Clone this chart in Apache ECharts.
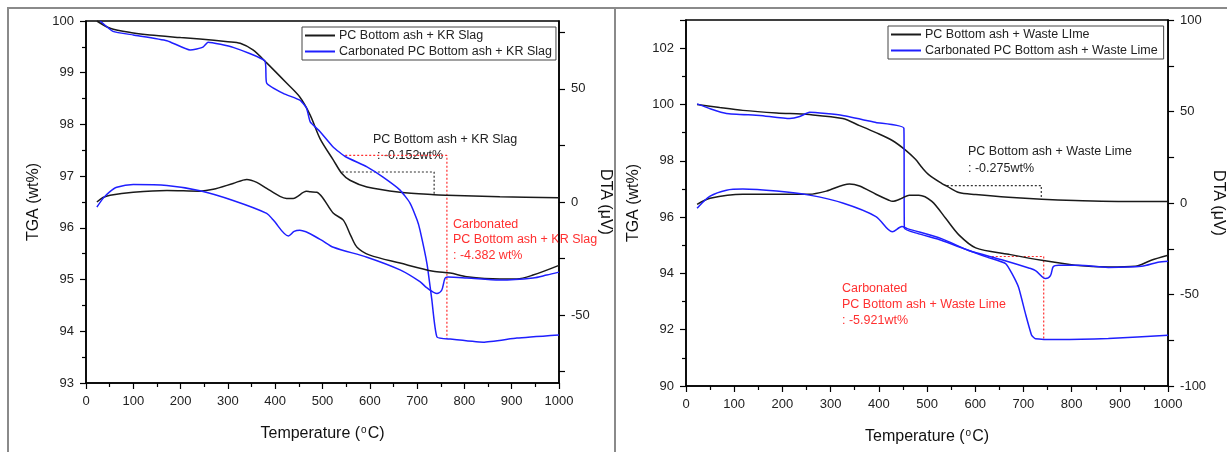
<!DOCTYPE html>
<html>
<head>
<meta charset="utf-8">
<script src="https://cdn.jsdelivr.net/npm/echarts@6/dist/echarts.min.js"></script>
<style>
html,body{margin:0;padding:0;background:#fff;}
#chart{width:1227px;height:452px;}
</style>
</head>
<body>
<div id="chart"></div>
<script>
// ---------- data (Temperature °C, value) ----------
const nameBlackL = 'PC Bottom ash + KR Slag';
const nameBlueL = 'Carbonated PC Bottom ash + KR Slag';
const nameBlackR = 'PC Bottom ash + Waste LIme';
const nameBlueR = 'Carbonated PC Bottom ash + Waste Lime';

const tgaBlackL = [[23,100],[51,99.86],[100,99.77],[135,99.73],[200,99.68],[241,99.65],[300,99.6],[326,99.57],[353,99.44],[382,99.19],[424,98.8],[452,98.53],[474,98.18],[495,97.72],[523,97.31],[541,97.05],[558,96.92],[594,96.79],[664,96.69],[736,96.64],[763,96.63],[875,96.6],[1000,96.58]];
const tgaBlueL = [[30,100],[57,99.8],[100,99.73],[171,99.62],[220,99.44],[234,99.46],[248,99.5],[258,99.59],[311,99.49],[378,99.23],[382,98.8],[417,98.6],[452,98.47],[463,98.36],[467,98.3],[474,98.05],[495,97.86],[523,97.56],[548,97.38],[594,97.18],[628,96.98],[664,96.73],[685,96.48],[700,96.15],[706,95.96],[721,95.3],[731,94.62],[742,93.89],[770,93.85],[840,93.79],[911,93.87],[1000,93.93]];
const dtaBlackL = [[23,0],[36,2],[51,3],[100,4.3],[171,5.1],[241,4.8],[269,5.6],[311,8.2],[340,10],[361,8.7],[382,6],[410,2.5],[424,1.6],[438,1.6],[466,4.7],[474,4.5],[488,4.3],[500,2],[523,-5],[544,-8],[560,-15],[573,-20],[600,-23.5],[664,-27],[734,-30.6],[770,-31.4],[805,-33],[875,-34],[911,-34],[945,-32.3],[1000,-28]];
const dtaBlueL = [[23,-2.3],[36,1.6],[50,4.5],[65,6.5],[100,7.7],[171,7.3],[241,5],[311,0.7],[382,-5],[396,-8],[428,-15],[440,-13],[452,-12.5],[495,-16.5],[523,-20],[594,-24.4],[664,-30],[706,-35.2],[721,-38],[742,-40.4],[752,-39],[759,-33.7],[765,-33.2],[805,-33.6],[875,-34.5],[945,-33.6],[974,-32.3],[1000,-31]];

const tgaBlackR = [[23,100],[70,99.89],[118,99.79],[188,99.7],[256,99.64],[325,99.5],[360,99.25],[394,99.0],[428,98.72],[456,98.37],[476,98.05],[490,97.75],[504,97.5],[531,97.19],[541,97.1],[566,96.87],[601,96.8],[669,96.7],[738,96.63],[807,96.59],[945,96.55],[1000,96.55]];
const tgaBlueR = [[23,100.02],[50,99.85],[84,99.68],[153,99.61],[215,99.5],[236,99.57],[256,99.72],[325,99.61],[394,99.36],[452,99.15],[453,95.6],[480,95.42],[531,95.17],[601,94.72],[626,94.57],[663,94.35],[676,94.0],[690,93.5],[704,92.58],[717,91.8],[725,91.68],[773,91.65],[876,91.69],[1000,91.8]];
const dtaBlackR = [[23,-0.7],[50,2.6],[118,4.8],[188,4.8],[256,4.8],[291,6.5],[339,10.4],[360,9.3],[394,4.8],[421,1.5],[428,0.9],[448,2.6],[463,4.3],[483,4.3],[510,0.9],[539,-8.5],[566,-17.4],[601,-24.5],[669,-28],[738,-31.3],[807,-34],[876,-35],[932,-34.6],[965,-31.3],[1000,-28.6]];
const dtaBlueR = [[23,-2.9],[50,3.7],[84,7],[118,7.6],[188,6.5],[256,4.3],[325,0],[394,-7.4],[428,-15.7],[448,-12.9],[459,-14],[531,-19.6],[587,-26],[655,-31],[711,-35.5],[725,-36.9],[746,-41.3],[756,-39.7],[762,-34.7],[773,-34],[814,-34],[876,-35.2],[945,-34.6],[979,-32.4],[1000,-31.8]];

// annotation brackets (Temperature, TGA)
const bracketBlackL = [[541,97.08],[736,97.08],[736,96.64]];
const bracketRedL = [[548,97.4],[763,97.4],[763,93.85]];
const bracketBlackR = [[541,97.12],[737,97.12],[737,96.64]];
const bracketRedR = [[626,94.6],[742,94.6],[742,91.65]];

// tick labels
const dtaTicksL = [-75,-50,-25,0,25,50,75];
const dtaLabelsL = [-50,0,50];
const dtaTicksR = [-100,-75,-50,-25,0,25,50,75,100];
const dtaLabelsR = [-100,-50,0,50,100];

// ---------- chart ----------
const FONT = 'Liberation Sans, Arial, sans-serif';
const BLACK = '#1a1a1a';
const BLUE = '#1f1fff';
const RED = '#ff3030';

function xAx(gi){
  return {
    type:'value', gridIndex:gi, min:0, max:1000, interval:100,
    name:'Temperature ({s|o}C)', nameLocation:'middle', nameGap:42,
    nameTextStyle:{fontFamily:FONT,fontSize:16,color:'#111',rich:{s:{fontSize:10,verticalAlign:'top',padding:[0,1,8,1],fontFamily:FONT,color:'#111'}}},
    axisLine:{show:true,onZero:false,lineStyle:{color:'#000',width:1.5}},
    axisTick:{show:true,length:6,lineStyle:{color:'#000',width:1.2}},
    minorTick:{show:true,splitNumber:2,length:4,lineStyle:{color:'#000',width:1.2}},
    axisLabel:{fontFamily:FONT,fontSize:13,color:'#222',margin:12,formatter:function(v){return String(v);}},
    splitLine:{show:false}
  };
}
const axisNameStyle = {fontFamily:FONT,fontSize:16,color:'#111'};

const option = {
  animation:false,
  backgroundColor:'#fff',
  grid:[
    {left:86,top:21,width:473,height:362,show:true,borderColor:'#000',borderWidth:1.5,containLabel:false},
    {left:686,top:20,width:484,height:366,show:true,borderColor:'#000',borderWidth:1.5,containLabel:false}
  ],
  xAxis:[xAx(0),xAx(1)],
  yAxis:[
    {type:'value',gridIndex:0,min:93,max:100,interval:1,position:'left',
     name:'TGA (wt%)',nameLocation:'middle',nameGap:44,nameTextStyle:axisNameStyle,
     axisLine:{show:true,onZero:false,lineStyle:{color:'#000',width:1.5}},
     axisTick:{show:true,length:6,lineStyle:{color:'#000',width:1.2}},
     minorTick:{show:true,splitNumber:2,length:4,lineStyle:{color:'#000',width:1.2}},
     axisLabel:{fontFamily:FONT,fontSize:13,color:'#222',margin:12},
     splitLine:{show:false}},
    {type:'value',gridIndex:0,min:-80,max:80,position:'right',
     name:'DTA (μV)',nameLocation:'middle',nameGap:38,nameRotate:-90,nameTextStyle:axisNameStyle,
     axisLine:{show:true,onZero:false,lineStyle:{color:'#000',width:1.5}},
     axisTick:{show:true,length:6,customValues:dtaTicksL,lineStyle:{color:'#000',width:1.2}},
     axisLabel:{fontFamily:FONT,fontSize:13,color:'#222',margin:12,customValues:dtaLabelsL},
     splitLine:{show:false}},
    {type:'value',gridIndex:1,min:90,max:103,interval:2,position:'left',
     name:'TGA (wt%)',nameLocation:'middle',nameGap:44,nameTextStyle:axisNameStyle,
     axisLine:{show:true,onZero:false,lineStyle:{color:'#000',width:1.5}},
     axisTick:{show:true,length:6,lineStyle:{color:'#000',width:1.2}},
     minorTick:{show:true,splitNumber:2,length:4,lineStyle:{color:'#000',width:1.2}},
     axisLabel:{fontFamily:FONT,fontSize:13,color:'#222',margin:12,showMaxLabel:false},
     splitLine:{show:false}},
    {type:'value',gridIndex:1,min:-100,max:100,position:'right',
     name:'DTA (μV)',nameLocation:'middle',nameGap:38,nameRotate:-90,nameTextStyle:axisNameStyle,
     axisLine:{show:true,onZero:false,lineStyle:{color:'#000',width:1.5}},
     axisTick:{show:true,length:6,customValues:dtaTicksR,lineStyle:{color:'#000',width:1.2}},
     axisLabel:{fontFamily:FONT,fontSize:13,color:'#222',margin:12,customValues:dtaLabelsR},
     splitLine:{show:false}}
  ],
  legend:[
    {left:302,top:27,orient:'vertical',data:[nameBlackL,nameBlueL],icon:'rect',
     borderColor:'#444',borderWidth:1,padding:[2,4,2,3],itemGap:3,itemWidth:30,itemHeight:2,
     textStyle:{fontFamily:FONT,fontSize:12.5,color:'#222',padding:[0,0,0,-1],lineHeight:13},selectedMode:false},
    {left:888,top:26,orient:'vertical',data:[nameBlackR,nameBlueR],icon:'rect',
     borderColor:'#444',borderWidth:1,padding:[2,6,2,3],itemGap:3,itemWidth:30,itemHeight:2,
     textStyle:{fontFamily:FONT,fontSize:12.5,color:'#222',padding:[0,0,0,-1],lineHeight:13},selectedMode:false}
  ],
  series:[],
  graphic:[]
};

function ln(name, data, xi, yi, color, extra){
  return Object.assign({type:'line',name:name,data:data,xAxisIndex:xi,yAxisIndex:yi,
    symbol:'none',smooth:0.3,lineStyle:{color:color,width:1.5},itemStyle:{color:color},z:3}, extra||{});
}
function br(name, data, xi, yi, color){
  return {type:'line',name:name,data:data,xAxisIndex:xi,yAxisIndex:yi,symbol:'none',silent:true,
    lineStyle:{color:color,width:1.2,type:[2,2]},z:2};
}
option.series.push(
  ln(nameBlackL,tgaBlackL,0,0,BLACK), ln(nameBlueL,tgaBlueL,0,0,BLUE,{smooth:0.15}),
  ln(nameBlackL,dtaBlackL,0,1,BLACK), ln(nameBlueL,dtaBlueL,0,1,BLUE),
  ln(nameBlackR,tgaBlackR,1,2,BLACK), ln(nameBlueR,tgaBlueR,1,2,BLUE,{smooth:0.15}),
  ln(nameBlackR,dtaBlackR,1,3,BLACK), ln(nameBlueR,dtaBlueR,1,3,BLUE),
  br('bL',bracketBlackL,0,0,'#333'), br('rL',bracketRedL,0,0,RED),
  br('bR',bracketBlackR,1,2,'#333'), br('rR',bracketRedR,1,2,RED)
);

function txt(x,y,s,color){
  return {type:'text',left:x,top:y-8,silent:true,style:{text:s,fill:color,font:'12.5px '+FONT}};
}
option.graphic.push(
  {type:'rect',shape:{x:8,y:8,width:607,height:470},style:{fill:'none',stroke:'#8a8a8a',lineWidth:2},silent:true},
  {type:'rect',shape:{x:615,y:8,width:640,height:470},style:{fill:'none',stroke:'#8a8a8a',lineWidth:2},silent:true},
  txt(373,141,'PC Bottom ash + KR Slag','#222'),
  txt(377,157,': -0.152wt%','#222'),
  txt(453,226,'Carbonated',RED),
  txt(453,241,'PC Bottom ash + KR Slag',RED),
  txt(453,257,': -4.382 wt%',RED),
  txt(968,153,'PC Bottom ash + Waste Lime','#222'),
  txt(968,170,': -0.275wt%','#222'),
  txt(842,290,'Carbonated',RED),
  txt(842,306,'PC Bottom ash + Waste Lime',RED),
  txt(842,322,': -5.921wt%',RED)
);

const chart = echarts.init(document.getElementById('chart'),null,{renderer:'canvas'});
chart.setOption(option);
</script>
</body>
</html>
